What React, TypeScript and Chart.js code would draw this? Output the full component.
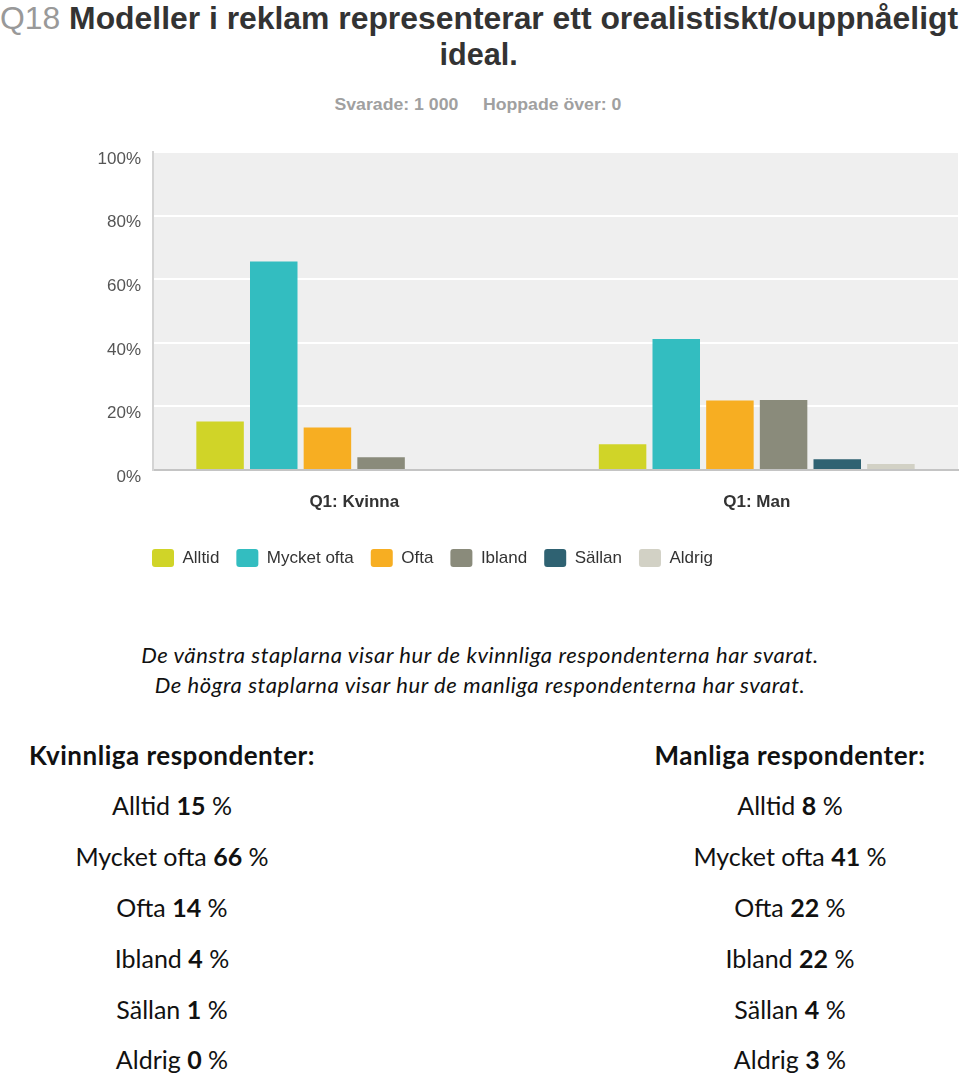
import React, { useEffect, useLayoutEffect, useRef } from "react";
import { Chart, registerables } from "chart.js";

Chart.register(...registerables);

const categories = ["Q1: Kvinna", "Q1: Man"];
const seriesNames = ["Alltid", "Mycket ofta", "Ofta", "Ibland", "Sällan", "Aldrig"];
const alltid = [15.3, 8.1];
const mycketOfta = [65.6, 41.2];
const ofta = [13.4, 21.9];
const ibland = [4.0, 22.0];
const sallan = [0, 3.4];
const aldrig = [0, 1.9];
const seriesColors = ["#d0d428", "#33bdc0", "#f7ae22", "#8a8b7b", "#2f6272", "#d2d1c5"];
const yTicks = [0, 20, 40, 60, 80, 100];

const kvinnligaText = ["15", "66", "14", "4", "1", "0"];
const manligaText = ["8", "41", "22", "22", "4", "3"];

const arial = "'Liberation Sans', Arial, sans-serif";

const bgPlugin = {
  id: "plotBg",
  beforeDraw(chart: any) {
    const { ctx, chartArea } = chart;
    if (!chartArea) return;
    ctx.save();
    ctx.fillStyle = "#efefef";
    ctx.fillRect(chartArea.left, chartArea.top, chartArea.right - chartArea.left, chartArea.bottom - chartArea.top);
    ctx.restore();
  },
  afterLayout(chart: any) {
    if (chart.legend) chart.legend.left = 135;
  },
};

function BarChart() {
  const ref = useRef<HTMLCanvasElement>(null);
  useEffect(() => {
    const values = [alltid, mycketOfta, ofta, ibland, sallan, aldrig];
    const chart = new Chart(ref.current!, {
      type: "bar",
      data: {
        labels: categories,
        datasets: seriesNames.map((name, i) => ({
          label: name,
          data: values[i],
          backgroundColor: seriesColors[i],
          borderWidth: 0,
          categoryPercentage: 0.8,
          barPercentage: 0.885,
        })),
      },
      options: {
        animation: false,
        responsive: true,
        maintainAspectRatio: false,
        layout: { padding: { top: 18, right: 2, left: 0, bottom: 0 } },
        plugins: {
          tooltip: { enabled: false },
          title: { display: false },
          legend: {
            position: "bottom",
            align: "start",
            labels: {
              boxWidth: 22,
              boxHeight: 18,
              padding: 17,
              useBorderRadius: true,
              borderRadius: 3,
              color: "#333",
              font: { family: arial, size: 17 },
            },
          },
        },
        scales: {
          x: {
            grid: { display: false, drawTicks: false },
            border: { display: true, color: "#c4c4c4", width: 2 },
            ticks: {
              padding: 22,
              color: "#333",
              font: { family: arial, size: 17, weight: "bold" },
            },
            afterFit(scale: any) {
              scale.height = 62;
            },
          },
          y: {
            min: 0,
            max: 100,
            afterBuildTicks(scale: any) {
              scale.ticks = yTicks.map((v) => ({ value: v }));
            },
            grid: { color: "#ffffff", lineWidth: 2, drawTicks: false },
            border: { display: true, color: "#d4d4d4", width: 2 },
            ticks: {
              padding: 12,
              labelOffset: 7,
              color: "#555",
              font: { family: arial, size: 17 },
              callback: (v: any) => v + "%",
            },
            afterFit(scale: any) {
              scale.width = 153;
            },
          },
        },
      },
      plugins: [bgPlugin],
    });
    return () => chart.destroy();
  }, []);
  return (
    <div style={{ position: "absolute", left: 0, top: 130, width: 960, height: 447 }}>
      <canvas ref={ref} />
    </div>
  );
}

function FitText({ top, center, width, style, children }: any) {
  const ref = useRef<HTMLSpanElement>(null);
  useLayoutEffect(() => {
    const el = ref.current!;
    el.style.transform = "none";
    const w = el.offsetWidth;
    if (w > 0) el.style.transform = `scaleX(${width / w})`;
  }, [width]);
  return (
    <div style={{ position: "absolute", top, left: center - 1000, width: 2000, textAlign: "center", whiteSpace: "pre" }}>
      <span ref={ref} style={{ display: "inline-block", transformOrigin: "50% 50%", ...style }}>
        {children}
      </span>
    </div>
  );
}

const lato = "Lato, 'Open Sans', sans-serif";

function Line({ top, left, width, children, style }: any) {
  return (
    <div
      style={{
        position: "absolute",
        top,
        left,
        width,
        textAlign: "center",
        whiteSpace: "nowrap",
        fontFamily: lato,
        color: "#111",
        ...style,
      }}
    >
      {children}
    </div>
  );
}

export default function App() {
  const rowsY = [805, 856, 907, 958, 1009, 1059];
  const titleStyle = { fontFamily: arial, fontWeight: "bold", fontSize: 31, lineHeight: "36px", color: "#333" };
  return (
    <div style={{ position: "absolute", left: 0, top: 0, width: 960, height: 1076, background: "#fff", overflow: "hidden" }}>
      <FitText top={1} center={479} width={958} style={titleStyle}>
        <span style={{ color: "#999", fontWeight: "normal" }}>Q18</span> Modeller i reklam representerar ett orealistiskt/ouppnåeligt
      </FitText>
      <FitText top={37} center={479} width={78} style={titleStyle}>
        ideal.
      </FitText>
      <FitText
        top={95}
        center={478}
        width={287}
        style={{ fontFamily: arial, fontWeight: "bold", fontSize: 17, lineHeight: "20px", color: "#a0a0a0" }}
      >
        {"Svarade: 1 000     Hoppade över: 0"}
      </FitText>
      <BarChart />
      <Line top={640} left={0} width={960} style={{ fontStyle: "italic", fontSize: 22, letterSpacing: "0.6px", lineHeight: "30px" }}>
        De vänstra staplarna visar hur de kvinnliga respondenterna har svarat.
      </Line>
      <Line top={670} left={0} width={960} style={{ fontStyle: "italic", fontSize: 22, letterSpacing: "0.6px", lineHeight: "30px" }}>
        De högra staplarna visar hur de manliga respondenterna har svarat.
      </Line>
      <Line top={738} left={-128} width={600} style={{ fontWeight: "bold", fontSize: 26, letterSpacing: "0.5px", lineHeight: "34px" }}>
        Kvinnliga respondenter:
      </Line>
      <Line top={738} left={490} width={600} style={{ fontWeight: "bold", fontSize: 26, letterSpacing: "0.5px", lineHeight: "34px" }}>
        Manliga respondenter:
      </Line>
      {seriesNames.map((name, i) => (
        <Line key={"k" + i} top={rowsY[i] - 17} left={-128} width={600} style={{ fontSize: 25, lineHeight: "34px" }}>
          {name} <b>{kvinnligaText[i]}</b> %
        </Line>
      ))}
      {seriesNames.map((name, i) => (
        <Line key={"m" + i} top={rowsY[i] - 17} left={490} width={600} style={{ fontSize: 25, lineHeight: "34px" }}>
          {name} <b>{manligaText[i]}</b> %
        </Line>
      ))}
    </div>
  );
}
